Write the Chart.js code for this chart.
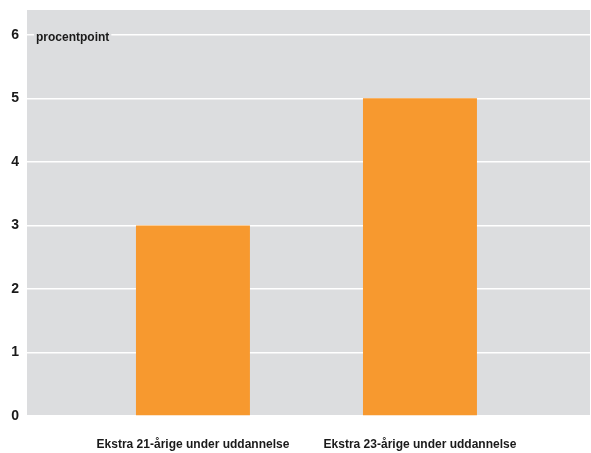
<!DOCTYPE html>
<html><head><meta charset="utf-8">
<script src="https://cdn.jsdelivr.net/npm/chart.js@4/dist/chart.umd.min.js"></script>
<style>html,body{margin:0;padding:0;background:#fff}#wrap{width:591px;height:453px}</style>
</head><body><div id="wrap"><canvas id="c" width="591" height="453"></canvas></div>
<script>
const categories = ["Ekstra 21-årige under uddannelse", "Ekstra 23-årige under uddannelse"];
const values = [3, 5];
const yTicks = [0, 1, 2, 3, 4, 5, 6];
const unitLabel = "procentpoint";

const FONT = "'Liberation Sans', Arial, sans-serif";

const bgPlugin = {
  id: 'bg',
  beforeDraw(chart) {
    const {ctx, chartArea: a} = chart;
    ctx.save();
    ctx.fillStyle = '#dcdddf';
    ctx.fillRect(a.left, a.top, a.right - a.left, a.bottom - a.top);
    ctx.restore();
  },
  afterDatasetsDraw(chart) {
    const {ctx, scales} = chart;
    const y = scales.y.getPixelForValue(yTicks[yTicks.length - 1]);
    ctx.save();
    ctx.font = "bold 12px " + FONT;
    const w = ctx.measureText(unitLabel).width;
    const x = scales.x.left + 9;
    ctx.fillStyle = '#dcdddf';
    ctx.fillRect(x - 2, y - 2, w + 4, 4);
    ctx.fillStyle = '#1a1a1a';
    ctx.textBaseline = 'alphabetic';
    ctx.fillText(unitLabel, x, y + 6.5);
    ctx.restore();
  }
};

new Chart(document.getElementById('c'), {
  type: 'bar',
  data: {
    datasets: [{
      data: values.map((v, i) => ({x: i, y: v})),
      backgroundColor: '#f7992f',
      borderWidth: 0,
      barPercentage: 0.502,
      categoryPercentage: 1
    }]
  },
  plugins: [bgPlugin],
  options: {
    responsive: false,
    animation: false,
    layout: {padding: {top: 10, right: 1, left: 0, bottom: 0}},
    plugins: {legend: {display: false}, tooltip: {enabled: false}},
    scales: {
      x: {
        type: 'linear',
        min: -0.731, max: 1.749,
        offset: false,
        grid: {display: false, drawTicks: false},
        border: {display: false},
        afterBuildTicks(s) { s.ticks = categories.map((c, i) => ({value: i})); },
        afterFit(s) { s.height = 37; s.paddingLeft = 0; s.paddingRight = 0; },
        ticks: {
          padding: 21,
          autoSkip: false,
          maxRotation: 0,
          color: '#1a1a1a',
          font: {family: FONT, size: 12, weight: 'bold'},
          callback: (v) => categories[v] ?? ''
        }
      },
      y: {
        min: 0, max: 6.39,
        grid: {color: '#ffffff', lineWidth: 1.5, drawTicks: false},
        border: {display: false},
        afterBuildTicks(s) { s.ticks = yTicks.map(v => ({value: v})); },
        afterFit(s) { s.width = 27; s.paddingTop = 0; s.paddingBottom = 0; },
        ticks: {
          padding: 8,
          color: '#1a1a1a',
          font: {family: FONT, size: 14, weight: 'bold'}
        }
      }
    }
  }
});
</script></body></html>
